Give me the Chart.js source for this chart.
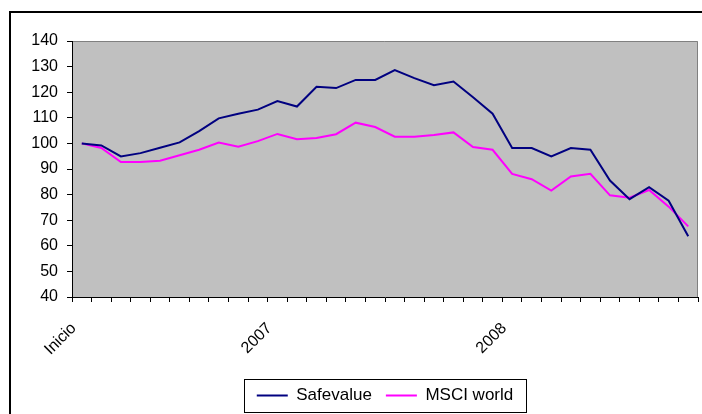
<!DOCTYPE html>
<html>
<head>
<meta charset="utf-8">
<script src="https://cdn.jsdelivr.net/npm/chart.js@4"></script>
<style>
    html, body { margin: 0; padding: 0; background: #fff; }
    #wrap { width: 702px; height: 414px; position: relative; }
</style>
</head>
<body>
<div id="wrap"><canvas id="perfChart" width="702" height="414"></canvas></div>
<script>
// Monthly index, base 100 at "Inicio"
const months = ['Inicio', '', '', '', '', '', '', '', '', '', '2007', '', '', '', '', '',
    '', '', '', '', '', '', '2008', '', '', '', '', '', '', '', '', ''];
const safevalue = [100, 99.2, 94.9, 96.2, 98.3, 100.4, 104.8, 109.8, 111.6, 113.2, 116.5, 114.4,
    122.1, 121.6, 124.8, 124.8, 128.6, 125.5, 122.7, 124.2, 118, 111.6, 98.2, 98.2,
    94.9, 98.2, 97.5, 85.5, 78.2, 82.9, 77.6, 63.7];
const msciWorld = [100, 98.2, 92.7, 92.7, 93.2, 95.4, 97.5, 100.3, 98.7, 100.9, 103.7, 101.6,
    102.1, 103.6, 108.1, 106.4, 102.6, 102.6, 103.3, 104.3, 98.6, 97.5, 88.1, 86,
    81.6, 87.1, 88.1, 79.7, 78.8, 81.8, 75.3, 67.6];

const FONT = 'Liberation Sans, Arial, sans-serif';

// gray plot area, gray top/right edge, outer frame, box round the legend
const excelLook = {
    id: 'excelLook',
    beforeDraw(chart) {
        const { ctx, chartArea: a } = chart;
        ctx.save();
        ctx.fillStyle = '#c0c0c0';
        ctx.fillRect(a.left, a.top, a.right - a.left, a.bottom - a.top);
        ctx.strokeStyle = '#808080';
        ctx.lineWidth = 1;
        ctx.beginPath();
        ctx.moveTo(a.left, a.top + 0.5);
        ctx.lineTo(a.right - 0.5, a.top + 0.5);
        ctx.lineTo(a.right - 0.5, a.bottom);
        ctx.stroke();
        ctx.restore();
    },
    afterDraw(chart) {
        const ctx = chart.ctx;
        ctx.save();
        ctx.strokeStyle = '#000';
        ctx.lineWidth = 2;
        ctx.strokeRect(10, 12, 800, 500);
        const boxes = chart.legend.legendHitBoxes;
        if (boxes && boxes.length) {
            const first = boxes[0], last = boxes[boxes.length - 1];
            const x0 = first.left - 13, x1 = last.left + last.width + 13;
            const y0 = first.top - 8, y1 = first.top + first.height + 8;
            ctx.lineWidth = 1;
            ctx.strokeRect(Math.round(x0) + 0.5, Math.round(y0) + 0.5, Math.round(x1 - x0), Math.round(y1 - y0));
        }
        ctx.restore();
    }
};

function initPerfChart() {
    const ctx = document.getElementById('perfChart').getContext('2d');
    new Chart(ctx, {
        type: 'line',
        data: {
            labels: months,
            datasets: [{
                label: 'Safevalue',
                data: safevalue,
                borderColor: '#000080',
                backgroundColor: '#000080',
                borderWidth: 2,
                pointRadius: 0,
                tension: 0
            }, {
                label: 'MSCI world',
                data: msciWorld,
                borderColor: '#ff00ff',
                backgroundColor: '#ff00ff',
                borderWidth: 2,
                pointRadius: 0,
                tension: 0
            }]
        },
        options: {
            responsive: false,
            animation: false,
            layout: { padding: { top: 41, right: 4, left: 0, bottom: 0 } },
            plugins: {
                tooltip: { enabled: false },
                legend: {
                    position: 'bottom',
                    fullSize: false,
                    labels: {
                        usePointStyle: true,
                        pointStyle: 'line',
                        pointStyleWidth: 31,
                        padding: 14,
                        color: '#000',
                        font: { family: FONT, size: 17 }
                    }
                }
            },
            scales: {
                x: {
                    offset: true,
                    afterFit: (s) => { s.height = 76; s.paddingLeft = 0; s.paddingRight = 0; },
                    grid: { offset: true, drawOnChartArea: false, color: '#000', tickLength: 5 },
                    border: { color: '#000', width: 1 },
                    ticks: {
                        autoSkip: false, maxRotation: 45, minRotation: 45,
                        color: '#000', padding: 17, labelOffset: -8,
                        font: { family: FONT, size: 16 }
                    }
                },
                y: {
                    min: 40, max: 140,
                    afterFit: (s) => { s.width = 72; },
                    grid: { drawOnChartArea: false, color: '#000', tickLength: 5 },
                    border: { color: '#000', width: 1 },
                    ticks: {
                        stepSize: 10, color: '#000', padding: 9,
                        font: { family: FONT, size: 16 }
                    }
                }
            }
        },
        plugins: [excelLook]
    });
}

document.addEventListener('DOMContentLoaded', () => {
    initPerfChart();
});
</script>
</body>
</html>
